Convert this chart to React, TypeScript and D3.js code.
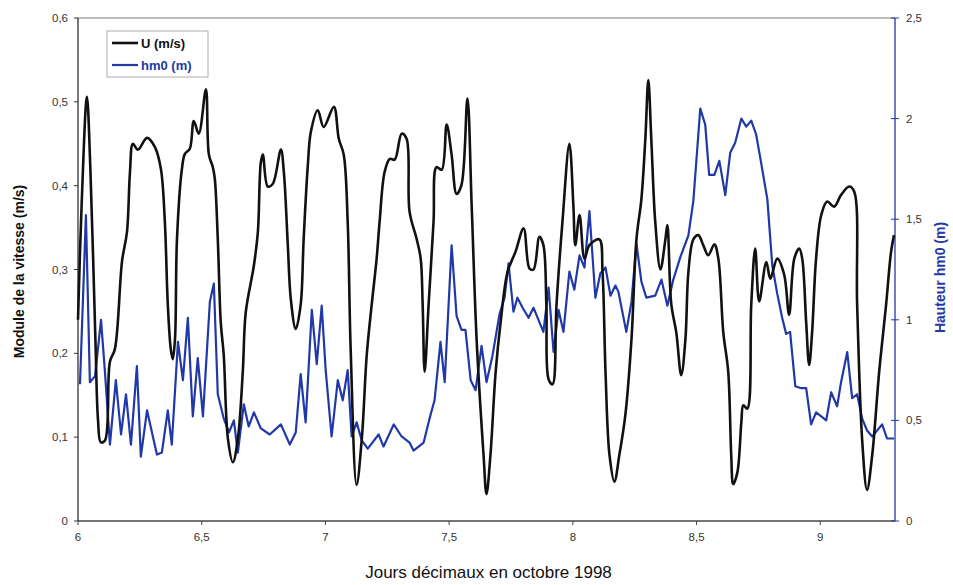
import React from "react";
import * as d3 from "d3";

// U (m/s) — day, value
const uDays = [6.0, 6.015, 6.036, 6.05, 6.07, 6.081, 6.092, 6.109, 6.129, 6.149, 6.178, 6.198, 6.21, 6.222, 6.242, 6.279, 6.311, 6.335, 6.351, 6.363, 6.375, 6.383, 6.392, 6.4, 6.42, 6.432, 6.452, 6.468, 6.488, 6.517, 6.529, 6.545, 6.553, 6.565, 6.577, 6.589, 6.606, 6.626, 6.646, 6.666, 6.678, 6.711, 6.727, 6.739, 6.747, 6.767, 6.787, 6.82, 6.832, 6.848, 6.86, 6.88, 6.9, 6.912, 6.929, 6.941, 6.969, 6.993, 7.034, 7.054, 7.074, 7.09, 7.102, 7.126, 7.147, 7.167, 7.187, 7.207, 7.219, 7.239, 7.26, 7.28, 7.308, 7.328, 7.34, 7.369, 7.385, 7.393, 7.401, 7.417, 7.437, 7.449, 7.47, 7.49, 7.51, 7.53, 7.55, 7.574, 7.591, 7.611, 7.639, 7.651, 7.667, 7.688, 7.708, 7.736, 7.768, 7.801, 7.825, 7.841, 7.865, 7.881, 7.893, 7.902, 7.918, 7.934, 7.958, 7.986, 8.002, 8.01, 8.027, 8.047, 8.067, 8.107, 8.12, 8.132, 8.148, 8.168, 8.188, 8.212, 8.237, 8.257, 8.277, 8.293, 8.305, 8.317, 8.333, 8.354, 8.374, 8.382, 8.398, 8.418, 8.438, 8.455, 8.467, 8.487, 8.507, 8.527, 8.547, 8.572, 8.588, 8.608, 8.628, 8.64, 8.648, 8.665, 8.681, 8.689, 8.705, 8.721, 8.737, 8.753, 8.782, 8.798, 8.826, 8.854, 8.874, 8.895, 8.915, 8.927, 8.943, 8.955, 8.967, 8.983, 9.004, 9.028, 9.056, 9.084, 9.117, 9.137, 9.149, 9.169, 9.189, 9.21, 9.238, 9.266, 9.286, 9.298];
const uValues = [0.24, 0.38, 0.506, 0.42, 0.22, 0.12, 0.094, 0.096, 0.19, 0.205, 0.31, 0.345, 0.416, 0.45, 0.443, 0.457, 0.446, 0.42, 0.357, 0.258, 0.205, 0.193, 0.217, 0.336, 0.42, 0.438, 0.444, 0.477, 0.462, 0.515, 0.437, 0.422, 0.408, 0.336, 0.237, 0.198, 0.098, 0.07, 0.098, 0.178, 0.249, 0.305, 0.345, 0.428, 0.437, 0.399, 0.402, 0.443, 0.416, 0.329, 0.265, 0.229, 0.258, 0.336, 0.425, 0.464, 0.49, 0.47, 0.494, 0.456, 0.437, 0.357, 0.205, 0.043, 0.098, 0.198, 0.258, 0.313, 0.357, 0.416, 0.432, 0.431, 0.462, 0.456, 0.369, 0.336, 0.313, 0.258, 0.178, 0.258, 0.357, 0.422, 0.419, 0.473, 0.437, 0.39, 0.401, 0.504, 0.377, 0.217, 0.079, 0.032, 0.079, 0.178, 0.237, 0.297, 0.321, 0.349, 0.301, 0.3, 0.339, 0.329, 0.258, 0.169, 0.163, 0.258, 0.357, 0.45, 0.377, 0.329, 0.365, 0.313, 0.329, 0.336, 0.297, 0.178, 0.079, 0.047, 0.079, 0.126, 0.217, 0.336, 0.384, 0.456, 0.526, 0.456, 0.357, 0.3, 0.336, 0.353, 0.258, 0.225, 0.174, 0.217, 0.297, 0.336, 0.341, 0.329, 0.317, 0.33, 0.313, 0.225, 0.178, 0.079, 0.044, 0.058, 0.118, 0.138, 0.134, 0.258, 0.325, 0.262, 0.309, 0.289, 0.313, 0.294, 0.246, 0.313, 0.325, 0.313, 0.237, 0.186, 0.225, 0.313, 0.365, 0.381, 0.375, 0.389, 0.399, 0.393, 0.258, 0.098, 0.037, 0.079, 0.178, 0.258, 0.321, 0.341];

// hm0 (m) — day, value
const hDays = [6.008, 6.032, 6.048, 6.069, 6.093, 6.109, 6.129, 6.153, 6.174, 6.194, 6.214, 6.238, 6.254, 6.279, 6.299, 6.319, 6.339, 6.363, 6.379, 6.404, 6.424, 6.444, 6.464, 6.484, 6.505, 6.533, 6.549, 6.565, 6.589, 6.61, 6.63, 6.646, 6.67, 6.69, 6.711, 6.739, 6.775, 6.82, 6.856, 6.88, 6.9, 6.92, 6.945, 6.965, 6.985, 7.001, 7.025, 7.05, 7.07, 7.09, 7.106, 7.126, 7.147, 7.171, 7.215, 7.235, 7.276, 7.308, 7.34, 7.356, 7.397, 7.421, 7.441, 7.465, 7.482, 7.51, 7.53, 7.55, 7.566, 7.587, 7.607, 7.631, 7.651, 7.675, 7.704, 7.724, 7.74, 7.76, 7.776, 7.797, 7.821, 7.841, 7.861, 7.881, 7.902, 7.922, 7.942, 7.962, 7.986, 8.006, 8.027, 8.047, 8.067, 8.091, 8.111, 8.132, 8.152, 8.172, 8.184, 8.216, 8.237, 8.257, 8.277, 8.297, 8.333, 8.358, 8.382, 8.406, 8.434, 8.467, 8.487, 8.515, 8.535, 8.551, 8.572, 8.592, 8.616, 8.636, 8.656, 8.681, 8.701, 8.721, 8.741, 8.761, 8.786, 8.806, 8.826, 8.846, 8.862, 8.878, 8.899, 8.923, 8.943, 8.963, 8.983, 9.004, 9.024, 9.044, 9.068, 9.084, 9.109, 9.129, 9.149, 9.169, 9.189, 9.21, 9.25, 9.27, 9.298];
const hValues = [0.68, 1.52, 0.69, 0.72, 1.0, 0.74, 0.38, 0.7, 0.43, 0.63, 0.38, 0.77, 0.32, 0.55, 0.44, 0.33, 0.34, 0.55, 0.38, 0.89, 0.7, 1.01, 0.52, 0.81, 0.52, 1.09, 1.18, 0.63, 0.51, 0.44, 0.5, 0.34, 0.58, 0.47, 0.54, 0.46, 0.43, 0.48, 0.38, 0.44, 0.73, 0.49, 1.05, 0.78, 1.07, 0.75, 0.42, 0.7, 0.6, 0.75, 0.42, 0.49, 0.4, 0.36, 0.43, 0.37, 0.48, 0.42, 0.39, 0.35, 0.39, 0.51, 0.6, 0.89, 0.69, 1.37, 1.02, 0.95, 0.95, 0.7, 0.65, 0.87, 0.69, 0.82, 1.03, 1.11, 1.28, 1.04, 1.11, 1.06, 1.01, 1.06, 1.0, 0.94, 1.16, 0.84, 1.05, 0.94, 1.24, 1.15, 1.32, 1.26, 1.54, 1.11, 1.23, 1.26, 1.12, 1.17, 1.14, 0.94, 1.09, 1.38, 1.19, 1.11, 1.12, 1.2, 1.07, 1.2, 1.31, 1.42, 1.59, 2.05, 1.97, 1.72, 1.72, 1.79, 1.62, 1.83, 1.88, 2.0, 1.96, 1.99, 1.92, 1.78, 1.6, 1.27, 1.13, 1.01, 0.93, 0.94, 0.67, 0.66, 0.66, 0.48, 0.54, 0.52, 0.5, 0.64, 0.57, 0.69, 0.84, 0.61, 0.63, 0.51, 0.45, 0.42, 0.48, 0.41, 0.41];

const xTicks = [6, 6.5, 7, 7.5, 8, 8.5, 9];
const uTicks = [0, 0.1, 0.2, 0.3, 0.4, 0.5, 0.6];
const hTicks = [0, 0.5, 1, 1.5, 2, 2.5];

const fmt = (v: number) => String(v).replace(".", ",");

export default function App() {
  const W = 953, H = 585;
  const left = 78, right = 895, top = 18, bottom = 521;
  const BLUE = "#2139a8";
  const x = d3.scaleLinear().domain([6, 9.302]).range([left, right]);
  const yU = d3.scaleLinear().domain([0, 0.6]).range([bottom, top]);
  const yH = d3.scaleLinear().domain([0, 2.5]).range([bottom, top]);

  const uData = uDays.map((d, i) => [d, uValues[i]] as [number, number]);
  const hData = hDays.map((d, i) => [d, hValues[i]] as [number, number]);

  const uLine = d3.line<[number, number]>().x(d => x(d[0])).y(d => yU(d[1])).curve(d3.curveCatmullRom.alpha(0.5));
  const hLine = d3.line<[number, number]>().x(d => x(d[0])).y(d => yH(d[1]));

  const font = "Arial, 'Liberation Sans', Helvetica, sans-serif";

  return (
    <svg width={W} height={H} style={{ position: "absolute", left: 0, top: 0, background: "#fff" }} fontFamily={font}>
      <rect x={0} y={0} width={W} height={H} fill="#fff" />
      {/* top border */}
      <line x1={left} x2={right} y1={top} y2={top} stroke="#777" strokeWidth={1} />
      {/* bottom axis */}
      <line x1={left} x2={right} y1={bottom} y2={bottom} stroke="#444" strokeWidth={1.3} />
      {xTicks.map(t => (
        <g key={"xt" + t}>
          <line x1={x(t)} x2={x(t)} y1={bottom} y2={bottom + 4} stroke="#444" />
          <text x={x(t)} y={bottom + 20} textAnchor="middle" fontSize={11.5} fill="#333">{fmt(t)}</text>
        </g>
      ))}
      {/* left axis */}
      <line x1={left} x2={left} y1={top} y2={bottom} stroke="#333" strokeWidth={1.3} />
      {uTicks.map(t => (
        <g key={"ut" + t}>
          <line x1={left - 4} x2={left} y1={yU(t)} y2={yU(t)} stroke="#333" />
          <text x={left - 10} y={yU(t) + 4} textAnchor="end" fontSize={11.5} fill="#333">{fmt(t)}</text>
        </g>
      ))}
      {/* right axis */}
      <line x1={right} x2={right} y1={top} y2={bottom} stroke={BLUE} strokeWidth={1.3} />
      {hTicks.map(t => (
        <g key={"ht" + t}>
          <line x1={right - 4} x2={right + 4} y1={yH(t)} y2={yH(t)} stroke={BLUE} />
          <text x={right + 11} y={yH(t) + 4} textAnchor="start" fontSize={11.5} fill="#333">{fmt(t)}</text>
        </g>
      ))}
      {/* series */}
      <path d={hLine(hData) || ""} fill="none" stroke={BLUE} strokeWidth={2.2} strokeLinejoin="round" />
      <path d={uLine(uData) || ""} fill="none" stroke="#111" strokeWidth={2.6} strokeLinejoin="round" />
      {/* legend */}
      <rect x={107} y={31} width={101} height={46} fill="#fff" stroke="#999" strokeWidth={0.8} />
      <line x1={112} x2={138} y1={43} y2={43} stroke="#111" strokeWidth={2.6} />
      <text x={141} y={48} fontSize={13} fontWeight="bold" fill="#111">U (m/s)</text>
      <line x1={112} x2={138} y1={65} y2={65} stroke={BLUE} strokeWidth={2.2} />
      <text x={141} y={70} fontSize={13} fontWeight="bold" fill={BLUE}>hm0 (m)</text>
      {/* axis titles */}
      <text transform={`translate(24,${(top + bottom) / 2 + 2}) rotate(-90)`} textAnchor="middle" fontSize={14} fontWeight="bold" fill="#111">Module de la vitesse (m/s)</text>
      <text transform={`translate(945,${(top + bottom) / 2 + 8}) rotate(-90)`} textAnchor="middle" fontSize={14} fontWeight="bold" fill={BLUE}>Hauteur hm0 (m)</text>
      <text x={(left + right) / 2 + 2} y={578} textAnchor="middle" fontSize={17} fill="#111">Jours décimaux en octobre 1998</text>
    </svg>
  );
}
